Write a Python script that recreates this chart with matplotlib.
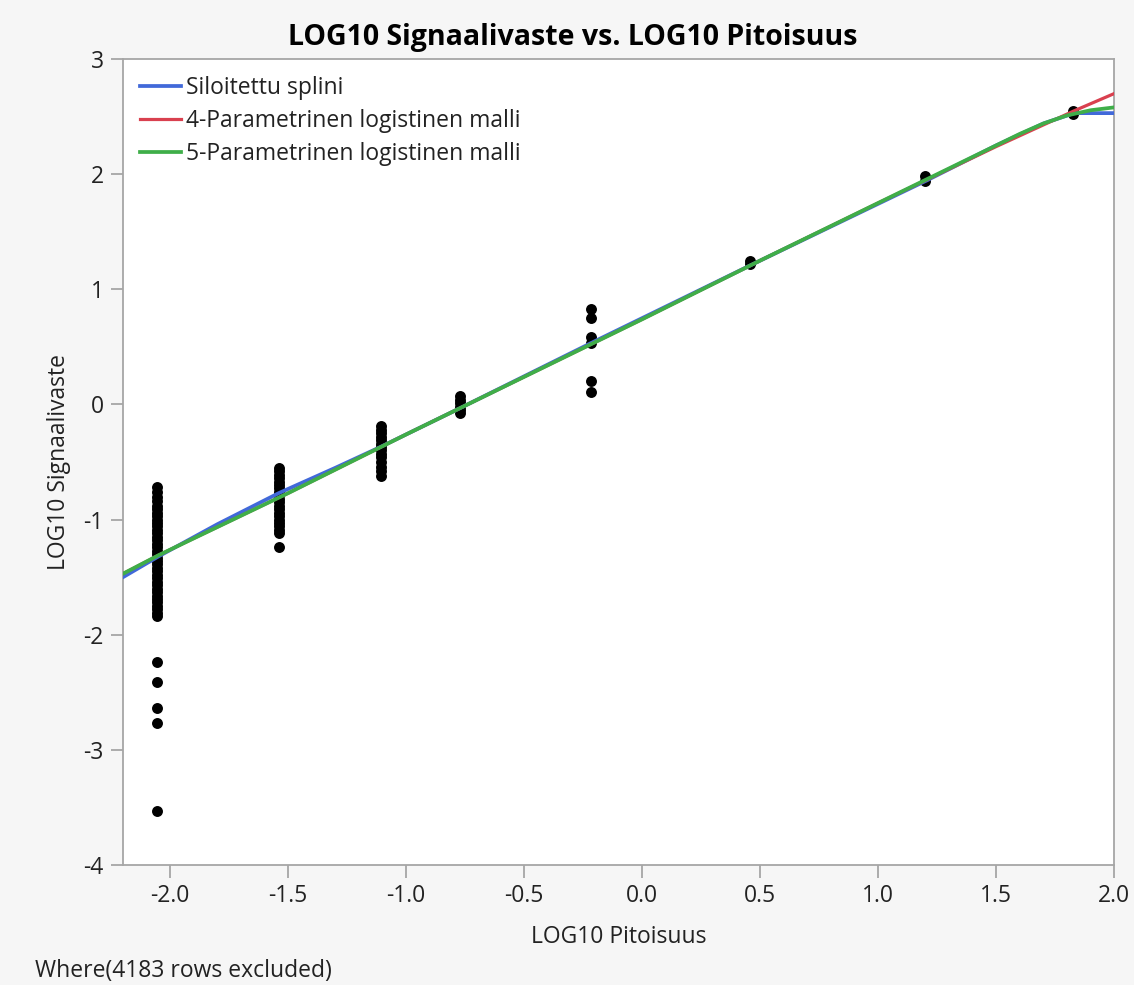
import matplotlib.pyplot as plt

# measured points, grouped by concentration level (log10)
conc_levels = [-2.055, -1.54, -1.107, -0.772, -0.217, 0.457, 1.20, 1.825]
responses = [
    [-0.72, -0.76, -0.80, -0.84, -0.88, -0.91, -0.94, -0.97, -1.00, -1.03,
     -1.06, -1.09, -1.12, -1.15, -1.18, -1.21, -1.24, -1.27, -1.30, -1.33,
     -1.36, -1.39, -1.42, -1.45, -1.48, -1.51, -1.54, -1.57, -1.60, -1.63,
     -1.66, -1.69, -1.72, -1.75, -1.78, -1.81, -1.84,
     -2.24, -2.41, -2.64, -2.77, -3.53],
    [-0.55, -0.58, -0.61, -0.64, -0.67, -0.70, -0.73, -0.76, -0.79, -0.82,
     -0.85, -0.88, -0.91, -0.94, -0.97, -1.00, -1.03, -1.06, -1.09, -1.12,
     -1.24],
    [-0.19, -0.22, -0.25, -0.28, -0.31, -0.34, -0.37, -0.40, -0.43, -0.46,
     -0.50, -0.54, -0.58, -0.62],
    [0.07, 0.04, 0.01, -0.02, -0.05, -0.07],
    [0.83, 0.75, 0.59, 0.53, 0.20, 0.11],
    [1.25, 1.22],
    [1.98, 1.94],
    [2.55, 2.52],
]

# fitted curves
spline_x = [-2.2, -2.05, -1.8, -1.54, -1.3, -1.11, -0.77, -0.22, 0.46, 1.21,
            1.5, 1.7, 1.83, 2.0]
spline_y = [-1.50, -1.32, -1.04, -0.77, -0.55, -0.37, -0.03, 0.53, 1.21, 1.95,
            2.25, 2.44, 2.53, 2.53]
pl4_x = [-2.2, -2.05, -1.5, -1.0, -0.5, 0.0, 0.5, 1.0, 1.5, 1.83, 2.0]
pl4_y = [-1.47, -1.31, -0.77, -0.26, 0.24, 0.74, 1.25, 1.75, 2.24, 2.55, 2.70]
pl5_x = [-2.2, -2.05, -1.5, -1.0, -0.5, 0.0, 0.5, 1.0, 1.5, 1.6, 1.7, 1.8, 1.9, 2.0]
pl5_y = [-1.47, -1.31, -0.77, -0.26, 0.24, 0.74, 1.25, 1.75, 2.25, 2.35, 2.44,
         2.51, 2.555, 2.58]

bg = "#f6f6f6"
axis_grey = "#a6a6a6"
txt = "#222222"
fs = 16.5
plt.rcParams["font.family"] = ["Open Sans", "DejaVu Sans"]

fig = plt.figure(figsize=(11.34, 9.85), dpi=100, facecolor=bg)
ax = fig.add_axes([0.1085, 0.1218, 0.8741, 0.8183])
ax.set_facecolor("white")

for x, ys in zip(conc_levels, responses):
    ax.scatter([x] * len(ys), ys, s=62, color="black", zorder=3, linewidths=0)

ax.plot(spline_x, spline_y, color="#4169d9", lw=2.7, label="Siloitettu splini", zorder=4)
ax.plot(pl4_x, pl4_y, color="#d9404f", lw=2.3, label="4-Parametrinen logistinen malli", zorder=4)
ax.plot(pl5_x, pl5_y, color="#3fae49", lw=2.7, label="5-Parametrinen logistinen malli", zorder=5)

ax.set_xlim(-2.2, 2.0)
ax.set_ylim(-4, 3)
ax.set_xticks([-2.0, -1.5, -1.0, -0.5, 0.0, 0.5, 1.0, 1.5, 2.0])
ax.set_xticklabels(["-2.0", "-1.5", "-1.0", "-0.5", "0.0", "0.5", "1.0", "1.5", "2.0"])
ax.set_yticks([-4, -3, -2, -1, 0, 1, 2, 3])
ax.set_yticklabels(["-4", "-3", "-2", "-1", "0", "1", "2", "3"])
for s in ax.spines.values():
    s.set_color(axis_grey)
    s.set_linewidth(1.3)
ax.tick_params(direction="out", length=9, width=1.3, color=axis_grey,
               labelsize=fs, labelcolor=txt, pad=5)

ax.set_xlabel("LOG10 Pitoisuus", fontsize=fs, color=txt, labelpad=12)
ax.set_ylabel("LOG10 Signaalivaste", fontsize=fs, color=txt, labelpad=9)
fig.text(0.505, 0.962, "LOG10 Signaalivaste vs. LOG10 Pitoisuus", fontsize=20.5,
         fontweight="bold", color="black", ha="center", va="center")

leg = ax.legend(loc="upper left", frameon=False, fontsize=fs, handlelength=1.8,
                handletextpad=0.2, labelspacing=0.38, borderaxespad=0.45,
                borderpad=0.3)
for t in leg.get_texts():
    t.set_color(txt)

fig.text(0.031, 0.008, "Where(4183 rows excluded)", fontsize=fs, color=txt)

fig.savefig("out.png", dpi=100, facecolor=bg)
